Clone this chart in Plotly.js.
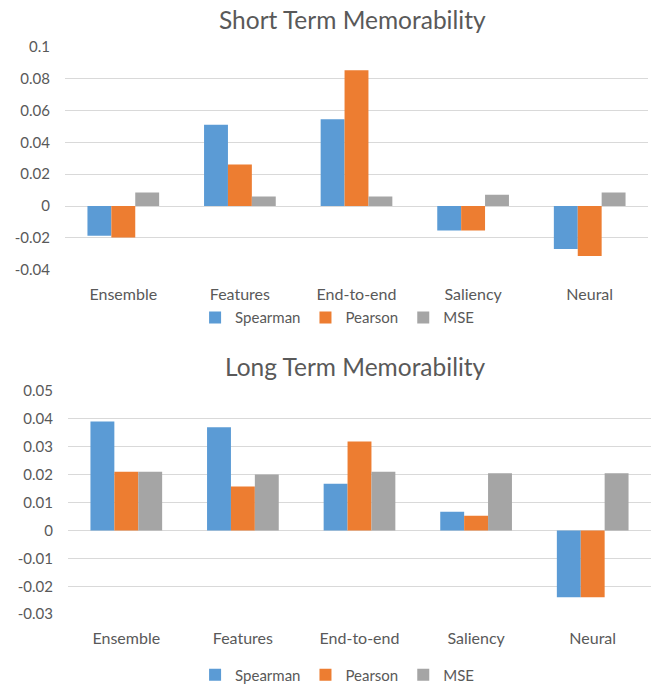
<!DOCTYPE html>
<html>
<head>
<meta charset="utf-8">
<script src="https://cdn.plot.ly/plotly-3.0.1.min.js"></script>
<style>html,body{margin:0;padding:0;background:#fff;}#chart{width:652px;height:692px;}</style>
</head>
<body>
<div id="chart"></div>
<script>
const categories = ["Ensemble", "Features", "End-to-end", "Saliency", "Neural"];
const seriesNames = ["Spearman", "Pearson", "MSE"];
const shortSpearman = [-0.0187, 0.051, 0.0545, -0.0153, -0.027];
const shortPearson = [-0.0197, 0.026, 0.0852, -0.0153, -0.0314];
const shortMSE = [0.0085, 0.006, 0.006, 0.0071, 0.0085];
const longSpearman = [0.039, 0.037, 0.0167, 0.0067, -0.0239];
const longPearson = [0.021, 0.0157, 0.0319, 0.0053, -0.0239];
const longMSE = [0.021, 0.020, 0.021, 0.0205, 0.0205];
const shortTicks = [-0.04, -0.02, 0, 0.02, 0.04, 0.06, 0.08, 0.1];
const shortTickText = ["-0.04", "-0.02", "0", "0.02", "0.04", "0.06", "0.08", "0.1"];
const longTicks = [-0.03, -0.02, -0.01, 0, 0.01, 0.02, 0.03, 0.04, 0.05];
const longTickText = ["-0.03", "-0.02", "-0.01", "0", "0.01", "0.02", "0.03", "0.04", "0.05"];
const colors = ["#5B9BD5", "#ED7D31", "#A5A5A5"];

const shortData = [shortSpearman, shortPearson, shortMSE];
const longData = [longSpearman, longPearson, longMSE];
const traces = [];
shortData.forEach((vals, i) => {
  traces.push({type: "bar", x: categories, y: vals, name: seriesNames[i],
    marker: {color: colors[i]}, xaxis: "x", yaxis: "y", legend: "legend"});
});
longData.forEach((vals, i) => {
  traces.push({type: "bar", x: categories, y: vals, name: seriesNames[i],
    marker: {color: colors[i]}, xaxis: "x2", yaxis: "y2", legend: "legend2"});
});

const font = {family: "Lato, 'Open Sans', sans-serif", color: "#595959", size: 14};
const grid = "#D9D9D9";
const layout = {
  width: 652, height: 692,
  margin: {l: 0, r: 0, t: 0, b: 0},
  paper_bgcolor: "#fff", plot_bgcolor: "#fff",
  font: font,
  barmode: "group", bargap: 0.385, bargroupgap: 0,
  showlegend: true,
  xaxis: {domain: [65/652, 648/652], anchor: "y", ticks: "outside", ticklen: 10, tickcolor: "rgba(0,0,0,0)",
    showline: false, showgrid: false, tickfont: {size: 16, color: "#595959"}},
  yaxis: {domain: [(692-273.3)/692, (692-47.3)/692], anchor: "x", range: [-0.04, 0.1],
    tickvals: shortTicks, ticktext: shortTickText, showgrid: true, gridcolor: grid, gridwidth: 1,
    zeroline: true, zerolinecolor: grid, zerolinewidth: 1, showline: false, ticklabelstandoff: 14,
    tickfont: {size: 15, color: "#595959"}},
  xaxis2: {domain: [68/652, 651/652], anchor: "y2", ticks: "outside", ticklen: 10, tickcolor: "rgba(0,0,0,0)",
    showline: false, showgrid: false, tickfont: {size: 16, color: "#595959"}},
  yaxis2: {domain: [(692-622.3)/692, (692-396)/692], anchor: "x2", range: [-0.03, 0.05],
    tickvals: longTicks, ticktext: longTickText, showgrid: true, gridcolor: grid, gridwidth: 1,
    zeroline: true, zerolinecolor: grid, zerolinewidth: 1, showline: false, ticklabelstandoff: 14,
    tickfont: {size: 15, color: "#595959"}},
  legend: {orientation: "h", x: 0.517, xanchor: "center", y: (692-322)/692, yanchor: "middle",
    font: {size: 15, color: "#595959"}, traceorder: "normal"},
  legend2: {orientation: "h", x: 0.517, xanchor: "center", y: (692-684)/692, yanchor: "middle",
    font: {size: 15, color: "#595959"}, traceorder: "normal"},
  annotations: [
    {text: "Short Term Memorability", xref: "paper", yref: "paper", x: 352/652, y: (692-20)/692,
      xanchor: "center", yanchor: "middle", showarrow: false, font: {size: 24.5, color: "#595959"}},
    {text: "Long Term Memorability", xref: "paper", yref: "paper", x: 355/652, y: (692-371)/692,
      xanchor: "center", yanchor: "middle", showarrow: false, font: {size: 24.5, color: "#595959"}}
  ]
};
Plotly.newPlot("chart", traces, layout, {displayModeBar: false, staticPlot: true});
</script>
</body>
</html>
